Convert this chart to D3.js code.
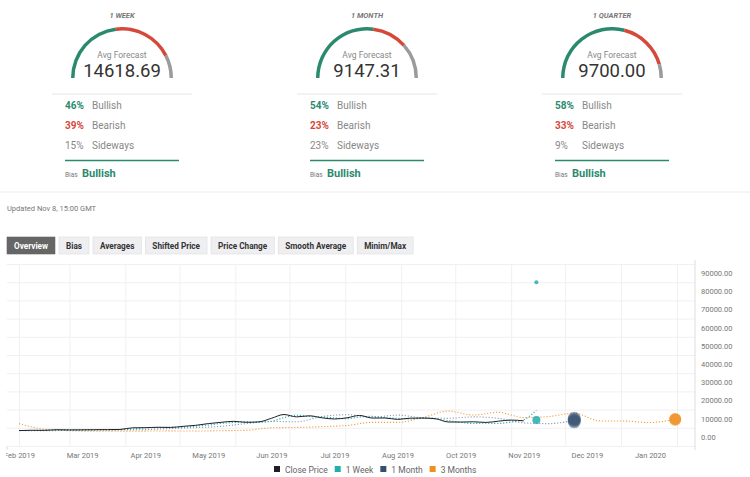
<!DOCTYPE html>
<html>
<head>
<meta charset="utf-8">
<script src="https://cdn.jsdelivr.net/npm/d3@7"></script>
<style>
  body { margin: 0; background: #fff; font-family: Roboto, "Open Sans", sans-serif; }
  svg text { font-family: Roboto, "Open Sans", sans-serif; }
</style>
</head>
<body>
<div id="chart"></div>
<script>
// summary boxes
const horizons = ["1 WEEK", "1 MONTH", "1 QUARTER"];
const avgForecast = ["14618.69", "9147.31", "9700.00"];
const bullish = [46, 54, 58];
const bearish = [39, 23, 33];
const sideways = [15, 23, 9];
const bias = ["Bullish", "Bullish", "Bullish"];
const updated = "Updated Nov 8, 15:00 GMT";
const buttons = ["Overview", "Bias", "Averages", "Shifted Price", "Price Change", "Smooth Average", "Minim/Max"];

// weekly close, Feb 1 2019 -> Nov 8 2019
const closePrice = [3450, 3650, 3600, 3950, 3820, 3870, 3950, 4000, 4100, 5000, 5050, 5290, 5200, 5800,
  6350, 7300, 8000, 8550, 8000, 8250, 10200, 12300, 11000, 11600, 10500, 9850, 10500, 11800, 10350,
  10400, 9600, 10300, 10350, 10000, 8200, 8150, 8300, 7950, 8650, 9250, 8800];
// weekly 1 week forecast, plotted at target date, Feb 1 2019 -> Nov 15 2019
const weekForecast = [3500, 3480, 3600, 3650, 3900, 3850, 3880, 3950, 4000, 4300, 5000, 5100, 5250, 5300,
  5900, 6500, 7400, 7900, 8400, 8100, 8600, 10600, 11900, 11200, 11000, 10400, 10000, 10900, 11300,
  10500, 10200, 9900, 10300, 9800, 9000, 8000, 7400, 7500, 7400, 8200, 9500, 14618.69];
// two-weekly 1 month forecast, Feb 1 2019 -> Dec 6 2019
const monthForecast = [3500, 3400, 3600, 3800, 3900, 4000, 4600, 5100, 5800, 7300, 8500, 8300, 11200,
  12200, 10800, 12000, 10500, 10200, 11000, 10200, 7700, 7300, 9147.31];
// two-weekly 3 months forecast, Feb 1 2019 -> Jan 31 2020
const quarterForecast = [7300, 4200, 3400, 3100, 3200, 3200, 3300, 3200, 3400, 3600, 5000, 5200, 5600,
  6300, 8000, 8000, 10600, 14200, 12000, 13500, 10600, 11200, 13000, 8800, 8700, 7900, 9700];

// individual forecasts at the target dates
const weekPoints = [9300, 85000];
const monthPoints = [8300, 9000, 9500, 10200];
const quarterPoints = [9400, 9900];

const yTicks = [0, 10000, 20000, 30000, 40000, 50000, 60000, 70000, 80000, 90000];
const seriesNames = ["Close Price", "1 Week", "1 Month", "3 Months"];

const green = "#2b8a6e", red = "#d4493b", grey = "#9b9b9b";
const colors = ["#1e1e28", "#22adb0", "#34506f", "#ee8f22"];

const svg = d3.select("#chart").append("svg")
  .attr("width", 750).attr("height", 477);

// ---- gauges and stats
const arc = d3.arc().innerRadius(47.5).outerRadius(51);
horizons.forEach((h, i) => {
  const cx = 122 + 245 * i;
  const g = svg.append("g");
  g.append("text").attr("x", cx).attr("y", 18).attr("text-anchor", "middle")
    .attr("font-size", 7.5).attr("font-style", "italic").attr("font-weight", "bold")
    .attr("fill", "#777").text(h);

  const parts = [bullish[i], bearish[i], sideways[i]];
  const cols = [green, red, grey];
  let a0 = -Math.PI / 2;
  parts.forEach((p, k) => {
    const a1 = a0 + Math.PI * p / 100;
    g.append("path").attr("transform", `translate(${cx},78)`)
      .attr("d", arc({ startAngle: a0, endAngle: a1 }))
      .attr("fill", cols[k]);
    a0 = a1;
  });

  g.append("text").attr("x", cx).attr("y", 57.5).attr("text-anchor", "middle")
    .attr("font-size", 8.5).attr("fill", "#888").text("Avg Forecast");
  g.append("text").attr("x", cx).attr("y", 77).attr("text-anchor", "middle")
    .attr("font-size", 18.5).attr("fill", "#333").text(avgForecast[i]);

  g.append("line").attr("x1", cx - 70).attr("x2", cx + 70).attr("y1", 94).attr("y2", 94)
    .attr("stroke", "#e6e6e6");

  const rows = [[bullish[i], "Bullish", green, "bold"], [bearish[i], "Bearish", red, "bold"],
                [sideways[i], "Sideways", "#888", "normal"]];
  rows.forEach((r, k) => {
    const ty = 109 + 20 * k;
    g.append("text").attr("x", cx - 57).attr("y", ty).attr("font-size", 10)
      .attr("font-weight", r[3]).attr("fill", r[2]).text(r[0] + "%");
    g.append("text").attr("x", cx - 30).attr("y", ty).attr("font-size", 10)
      .attr("fill", "#888").text(r[1]);
  });

  g.append("line").attr("x1", cx - 57).attr("x2", cx + 57).attr("y1", 160.5).attr("y2", 160.5)
    .attr("stroke", green).attr("stroke-width", 1.5);
  g.append("text").attr("x", cx - 57).attr("y", 177).attr("font-size", 6.5)
    .attr("fill", "#777").text("Bias");
  g.append("text").attr("x", cx - 40).attr("y", 177).attr("font-size", 11)
    .attr("font-weight", "bold").attr("fill", green).text(bias[i]);
});

svg.append("line").attr("x1", 0).attr("x2", 750).attr("y1", 192).attr("y2", 192).attr("stroke", "#ececec");
svg.append("text").attr("x", 7).attr("y", 211).attr("font-size", 7.5).attr("fill", "#777").text(updated);

// ---- buttons
let bx = 7;
buttons.forEach((b, i) => {
  const g = svg.append("g");
  const rect = g.append("rect").attr("y", 237).attr("height", 17)
    .attr("fill", i === 0 ? "#666" : "#efeff2").attr("stroke", i === 0 ? "#666" : "#dcdce0")
    .attr("stroke-width", 0.6);
  const t = g.append("text").attr("y", 248.5).attr("font-size", 8.2).attr("font-weight", "bold")
    .attr("fill", i === 0 ? "#fff" : "#333").text(b);
  const w = t.node().getComputedTextLength() + 14;
  rect.attr("x", bx).attr("width", w);
  t.attr("x", bx + 7);
  bx += w + 4;
});

// ---- chart
const pLeft = 7, pRight = 695, pTop = 264, pBottom = 446;
const x = d3.scaleTime().domain([new Date(2019, 1, 1), new Date(2020, 1, 1)]).range([19, 677]);
const y = d3.scaleLinear().domain([-5000, 95000]).range([pBottom, pTop]);

const start = new Date(2019, 1, 1);
const toSeries = (vals, step) => vals.map((v, i) => ({ date: d3.timeDay.offset(start, i * step), value: v }));

svg.append("clipPath").attr("id", "plot").append("rect")
  .attr("x", pLeft).attr("y", pTop - 20).attr("width", pRight - pLeft).attr("height", pBottom - pTop + 20);
svg.append("clipPath").attr("id", "labels").append("rect")
  .attr("x", 6).attr("y", 0).attr("width", 744).attr("height", 477);

// horizontal grid
const gridY = d3.range(-5000, 95001, 10000);
svg.append("g").attr("transform", `translate(${pLeft},0)`)
  .call(d3.axisLeft(y).tickValues(gridY).tickSize(-(pRight - pLeft)).tickFormat(""))
  .call(g => g.select(".domain").remove())
  .call(g => g.selectAll("line").attr("stroke", "#f0f0f3"));

// vertical grid at month starts
svg.append("g").attr("transform", `translate(0,${pBottom})`)
  .call(d3.axisBottom(x).tickValues(d3.timeMonth.range(new Date(2019, 1, 1), new Date(2020, 1, 2)))
    .tickSize(-(pBottom - pTop)).tickFormat(""))
  .call(g => g.select(".domain").remove())
  .call(g => g.selectAll("line").attr("stroke", "#f0f0f3"));

// axis lines
svg.append("line").attr("x1", pRight).attr("x2", pRight).attr("y1", pTop - 4).attr("y2", pBottom + 4)
  .attr("stroke", "#ddd");
svg.append("line").attr("x1", pLeft).attr("x2", pLeft).attr("y1", pBottom).attr("y2", pBottom + 4)
  .attr("stroke", "#ddd");

// y labels
svg.append("g").attr("transform", `translate(${pRight},0)`)
  .call(d3.axisRight(y).tickValues(yTicks).tickFormat(d3.format(".2f")).tickSize(0).tickPadding(6))
  .call(g => g.select(".domain").remove())
  .call(g => g.selectAll("text").attr("font-size", 7.5).attr("fill", "#777")
    .attr("font-family", "Roboto, sans-serif"));

// x labels every 35 days
const xLabels = d3.range(0, 11).map(k => d3.timeDay.offset(start, 35 * k));
svg.append("g").attr("transform", `translate(0,${pBottom})`).attr("clip-path", "url(#labels)")
  .call(d3.axisBottom(x).tickValues(xLabels).tickFormat(d3.timeFormat("%b %Y")).tickSize(0).tickPadding(7))
  .call(g => g.select(".domain").remove())
  .call(g => g.selectAll("text").attr("font-size", 7.5).attr("fill", "#777")
    .attr("font-family", "Roboto, sans-serif"));

const line = d3.line().x(d => x(d.date)).y(d => y(d.value)).curve(d3.curveMonotoneX);
const plot = svg.append("g").attr("clip-path", "url(#plot)");

plot.append("path").datum(toSeries(quarterForecast, 14)).attr("d", line)
  .attr("fill", "none").attr("stroke", colors[3]).attr("stroke-width", 1.1)
  .attr("stroke-dasharray", "1.2,1.8").attr("opacity", 0.85);
plot.append("path").datum(toSeries(monthForecast, 14)).attr("d", line)
  .attr("fill", "none").attr("stroke", colors[2]).attr("stroke-width", 1.1)
  .attr("stroke-dasharray", "1.2,1.8").attr("opacity", 0.55);
plot.append("path").datum(toSeries(weekForecast, 7)).attr("d", line)
  .attr("fill", "none").attr("stroke", colors[1]).attr("stroke-width", 1.1)
  .attr("stroke-dasharray", "1.2,1.8");
plot.append("path").datum(toSeries(closePrice, 7)).attr("d", line)
  .attr("fill", "none").attr("stroke", colors[0]).attr("stroke-width", 1);

// forecast bubbles
const bubbles = [
  { date: new Date(2019, 10, 15), vals: weekPoints, color: colors[1], r: [4, 2], op: 0.85 },
  { date: new Date(2019, 11, 6), vals: monthPoints, color: colors[2], r: [6.5], op: 0.5 },
  { date: new Date(2020, 0, 31), vals: quarterPoints, color: colors[3], r: [6], op: 0.7 }
];
bubbles.forEach(b => {
  plot.selectAll(null).data(b.vals).join("circle")
    .attr("cx", x(b.date)).attr("cy", d => y(d))
    .attr("r", (d, i) => b.r[Math.min(i, b.r.length - 1)])
    .attr("fill", b.color).attr("opacity", b.op);
});

// legend
let lx = 274;
seriesNames.forEach((n, i) => {
  svg.append("rect").attr("x", lx).attr("y", 466).attr("width", 6).attr("height", 6).attr("fill", colors[i]);
  const t = svg.append("text").attr("x", lx + 11).attr("y", 472.5).attr("font-size", 8.5)
    .attr("fill", "#666").text(n);
  lx += 11 + t.node().getComputedTextLength() + 7;
});
</script>
</body>
</html>
